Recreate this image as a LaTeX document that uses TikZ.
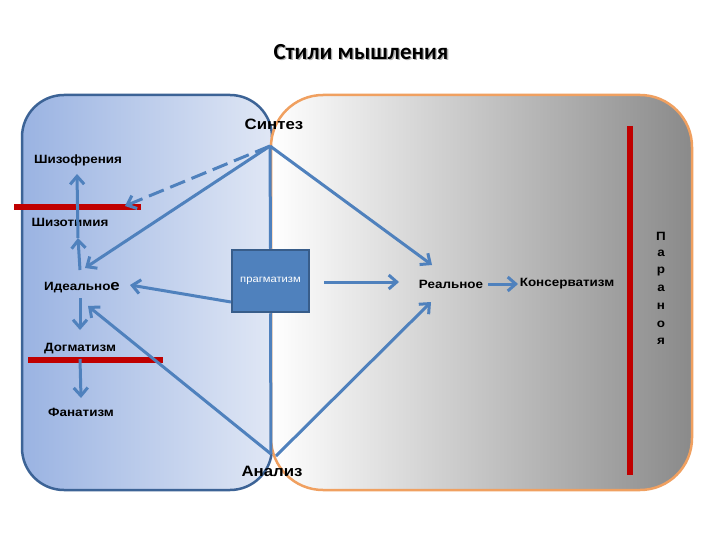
\documentclass[tikz,border=0pt]{standalone}
\usepackage{fontspec}
\setmainfont{Liberation Sans}
\newfontfamily\labfont[FakeStretch=1.12]{Liberation Sans}
\newfontfamily\titlefont{Carlito}
\usetikzlibrary{arrows.meta}
\definecolor{arrblue}{HTML}{4F81BD}
\definecolor{boxedge}{HTML}{385D8A}
\definecolor{leftedge}{HTML}{3C6396}
\definecolor{orangeedge}{HTML}{F0A060}
\definecolor{barred}{HTML}{C00000}
\definecolor{blueL}{HTML}{9AB3E2}
\definecolor{blueR}{HTML}{E0E7F5}
\definecolor{grayR}{HTML}{8A8A8A}
\tikzset{
  lbl/.style={font=\labfont\bfseries\fontsize{12}{14}\selectfont, inner sep=1pt},
  biglbl/.style={font=\labfont\bfseries\fontsize{15}{17}\selectfont, inner sep=1pt},
  arr/.style={draw=arrblue, line width=3pt, -{Straight Barb[length=8pt,width=14pt]}},
  plain/.style={draw=arrblue, line width=3pt},
  redbar/.style={draw=barred, line width=6pt},
  letter/.style={font=\labfont\bfseries\fontsize{12}{14}\selectfont, inner sep=0pt},
}
\begin{document}
\begin{tikzpicture}[x=1pt,y=-1pt]
\useasboundingbox (0,0) rectangle (720,540);
\fill[white] (0,0) rectangle (720,540);
% panels
\shade[left color=blueL, right color=blueR, draw=leftedge, line width=2.5pt, rounded corners=42pt]
  (22,95) rectangle (272,490);
\shade[left color=white, right color=grayR, draw=orangeedge, line width=2.5pt, rounded corners=52pt]
  (271,95) rectangle (692,490);
% title
\node[font=\titlefont\bfseries\fontsize{23}{27}\selectfont, text=black!30] at (362.3,53.3) {Стили мышления};
\node[font=\titlefont\bfseries\fontsize{23}{27}\selectfont] (title) at (361,52) {Стили мышления};
% red bars
\draw[redbar] (14,207) -- (141,207);
\draw[redbar] (28,360) -- (163,360);
\draw[redbar] (630,126) -- (630,475);
% labels
\node[biglbl] (synth) at (274,124) {Синтез};
\node[biglbl] (anal) at (272,471) {Анализ};
\node[lbl] (shizofr) at (78,160) {Шизофрения};
\node[lbl] (shizot) at (70,222) {Шизотимия};
\node[lbl] (ideal) at (82,288) {Идеально{\fontsize{15}{17}\selectfont е}};
\node[lbl] (dogm) at (80,349) {Догматизм};
\node[lbl] (fanat) at (81,412) {Фанатизм};
\node[lbl] (real) at (451,284) {Реальное};
\node[lbl] (kons) at (567,284) {Консерватизм};
\foreach \c [count=\i] in {П,а,р,а,н,о,я}
  \node[letter] (p\i) at (661,{236+17.6*(\i-1)}) {\c};
% box
\node[draw=boxedge, line width=2.5pt, fill=arrblue, minimum width=77pt, minimum height=62pt,
  inner sep=0pt, text=white, font=\labfont\fontsize{10}{12}\selectfont] (prag) at (270.5,281) {прагматизм};
% coordinates
\coordinate (S) at (270,146);
\coordinate (A) at (271,454);
\coordinate (A2) at (276,456);
\coordinate (tDash) at (125,206);
\coordinate (tIdTop) at (85,268);
\coordinate (tIdBot) at (88,306);
\coordinate (tIdL) at (130,285);
\coordinate (tRealTop) at (432,265);
\coordinate (tRealBot) at (431,302);
\coordinate (bL) at (231,302);
\coordinate (bR) at (324,282);
\coordinate (tBR) at (399,282);
\coordinate (rK1) at (488,284);
\coordinate (rK2) at (518,284);
\coordinate (i1) at (80,298);
\coordinate (i2) at (80,330);
\coordinate (d1) at (80,359);
\coordinate (d2) at (81,398);
\coordinate (u1) at (80,270);
\coordinate (u2) at (78,238);
\coordinate (u3) at (77,174);
% connectors
\draw[arr, dash pattern=on 16pt off 7pt] (S) -- (tDash);
\draw[arr] (S) -- (tIdTop);
\draw[arr] (S) -- (tRealTop);
\draw[plain] (S) -- (prag.north);
\draw[plain] (prag.south) -- (A);
\draw[arr] (A) -- (tIdBot);
\draw[arr] (A2) -- (tRealBot);
\draw[arr] (bL) -- (tIdL);
\draw[arr] (bR) -- (tBR);
\draw[arr] (rK1) -- (rK2);
\draw[arr] (i1) -- (i2);
\draw[arr] (d1) -- (d2);
\draw[arr] (u1) -- (u2);
\draw[arr] (u2) -- (u3);
\end{tikzpicture}
\end{document}
